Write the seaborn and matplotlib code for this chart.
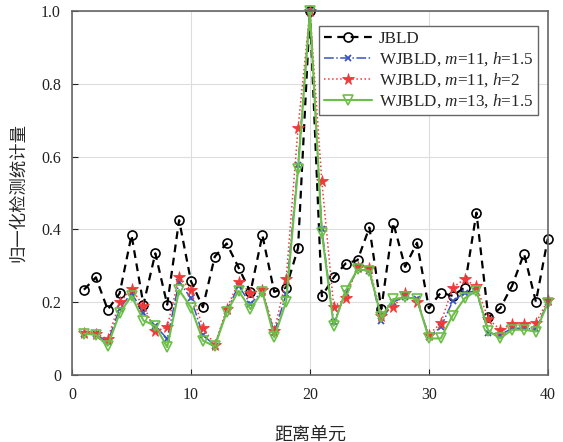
import numpy as np
import pandas as pd
import matplotlib
matplotlib.use("Agg")
import matplotlib.pyplot as plt
import seaborn as sns

# Range cells and normalized detection statistics for each detector
cells = list(range(1, 41))

jbld = [0.234, 0.268, 0.179, 0.224, 0.384, 0.193, 0.334, 0.193, 0.425, 0.257,
        0.186, 0.325, 0.361, 0.295, 0.227, 0.384, 0.228, 0.240, 0.348, 1.000,
        0.216, 0.268, 0.306, 0.315, 0.405, 0.181, 0.418, 0.297, 0.363, 0.183,
        0.226, 0.217, 0.240, 0.446, 0.158, 0.183, 0.245, 0.333, 0.201, 0.374]

wjbld_m11_h15 = [0.113, 0.111, 0.090, 0.182, 0.225, 0.170, 0.135, 0.099, 0.256, 0.210,
                 0.110, 0.080, 0.175, 0.245, 0.195, 0.230, 0.115, 0.222, 0.578, 1.000,
                 0.400, 0.144, 0.225, 0.290, 0.285, 0.149, 0.200, 0.215, 0.208, 0.105,
                 0.131, 0.202, 0.226, 0.230, 0.115, 0.110, 0.128, 0.128, 0.125, 0.200]

wjbld_m11_h2 = [0.114, 0.112, 0.099, 0.199, 0.236, 0.190, 0.121, 0.131, 0.269, 0.233,
                0.129, 0.083, 0.181, 0.256, 0.225, 0.233, 0.121, 0.263, 0.679, 1.000,
                0.532, 0.187, 0.210, 0.297, 0.295, 0.163, 0.187, 0.224, 0.201, 0.110,
                0.142, 0.240, 0.263, 0.243, 0.153, 0.124, 0.140, 0.140, 0.142, 0.206]

wjbld_m13_h15 = [0.113, 0.110, 0.080, 0.169, 0.217, 0.149, 0.135, 0.076, 0.233, 0.185,
                 0.094, 0.078, 0.172, 0.231, 0.181, 0.228, 0.103, 0.201, 0.566, 1.000,
                 0.391, 0.135, 0.231, 0.290, 0.286, 0.158, 0.208, 0.213, 0.208, 0.100,
                 0.100, 0.163, 0.210, 0.231, 0.121, 0.100, 0.124, 0.124, 0.119, 0.197]

labels = ["JBLD",
          r"WJBLD, $m$=11, $h$=1.5",
          r"WJBLD, $m$=11, $h$=2",
          r"WJBLD, $m$=13, $h$=1.5"]

sns.set_theme(style="whitegrid")
plt.rcParams["font.family"] = ["Liberation Serif", "Noto Sans CJK SC"]
plt.rcParams["mathtext.fontset"] = "custom"
plt.rcParams["mathtext.rm"] = "Liberation Serif"
plt.rcParams["mathtext.it"] = "Liberation Serif:italic"

fig = plt.figure(figsize=(5.63, 4.42), dpi=100)
ax = fig.add_axes([0.128, 0.152, 0.845, 0.823])
ax.set_facecolor("white")

blue = "#3a55c0"
red = "#f03a3a"
green = "#6cbf48"

styles = [
    dict(color="black", linestyle=(0, (3.5, 2.5)), linewidth=1.6, marker="o",
         markersize=6.5, markerfacecolor="none", markeredgecolor="black",
         markeredgewidth=1.2),
    dict(color=blue, linestyle="-.", linewidth=1.1, marker="x",
         markersize=5, markeredgewidth=1.3, markeredgecolor=blue,
         markerfacecolor=blue),
    dict(color=red, linestyle=":", linewidth=1.1, marker="*",
         markersize=8.5, markerfacecolor=red, markeredgecolor=red,
         markeredgewidth=0.6),
    dict(color=green, linestyle="-", linewidth=1.5, marker="v",
         markersize=7, markerfacecolor="none", markeredgecolor=green,
         markeredgewidth=1.2),
]

for vals, lab, st in zip([jbld, wjbld_m11_h15, wjbld_m11_h2, wjbld_m13_h15], labels, styles):
    sns.lineplot(x=cells, y=vals, ax=ax, label=lab, clip_on=False, **st)

ax.set_xlim(0, 40)
ax.set_ylim(0, 1.0)
ax.set_xticks([0, 10, 20, 30, 40])
ax.set_yticks([0, 0.2, 0.4, 0.6, 0.8, 1.0])
ax.set_yticklabels(["0", "0.2", "0.4", "0.6", "0.8", "1.0"])
ax.tick_params(axis="both", labelsize=11.5, colors="#222222", direction="in",
               length=4, width=0.8, bottom=True, left=True)
ax.tick_params(axis="x", pad=9)
ax.tick_params(axis="y", pad=8)
ax.grid(True, color="#dddddd", linewidth=0.8)
for sp in ax.spines.values():
    sp.set_color("#666666")
    sp.set_linewidth(1.2)

ax.set_xlabel("距离单元", fontsize=13, family=["Noto Sans CJK SC"], labelpad=16)
ax.set_ylabel("归一化检测统计量", fontsize=12.5, family=["Noto Sans CJK SC"], labelpad=10)

leg = ax.legend(loc="upper right", fontsize=12.3, frameon=True, fancybox=False,
                borderpad=0.3, labelspacing=0.2, handlelength=2.8,
                handletextpad=0.4, borderaxespad=0.0,
                bbox_to_anchor=(0.98, 0.96))
leg.get_frame().set_edgecolor("#666666")
leg.get_frame().set_linewidth(1.0)
leg.get_frame().set_facecolor("white")
leg.get_frame().set_alpha(1.0)

fig.savefig("out.png", dpi=100)
